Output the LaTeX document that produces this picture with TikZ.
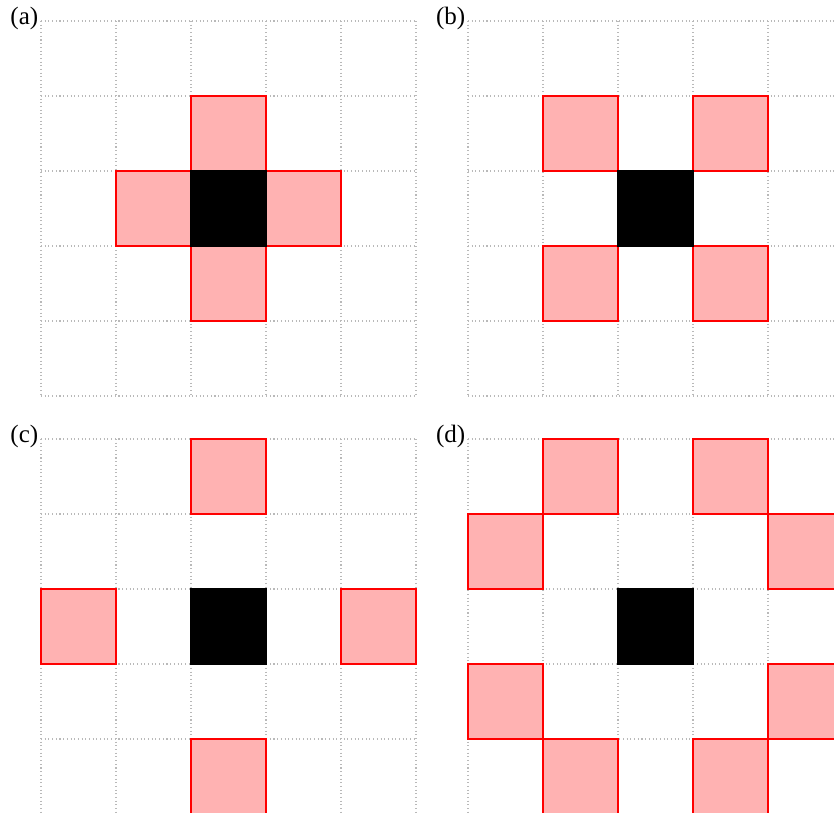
\documentclass[tikz,border=0pt]{standalone}
\usepackage{fontspec}
\setmainfont{Liberation Serif}
\begin{document}
\begin{tikzpicture}[x=1cm,y=1cm,
  gridline/.style={draw=gray!55, densely dotted, line width=0.4pt},
  pinkcell/.style={fill=red!30, draw=red, line width=0.5pt},
  centercell/.style={fill=black, draw=black, line width=0.5pt},
  paneltag/.style={anchor=east, inner sep=0pt, font=\fontsize{9.5}{11}\selectfont}]
\useasboundingbox (0,0) rectangle (834/75,-812/75);
\clip (0,0) rectangle (834/75,-812/75);
% panel origins (top-left of grid)
\def\panel#1#2#3#4{%
  \begin{scope}[shift={(#1,#2)}]
    \foreach \i in {0,...,5} {
      \draw[gridline] (\i,0) -- (\i,-5);
      \draw[gridline] (0,-\i) -- (5,-\i);
    }
    \foreach \c/\r in {#4} {
      \draw[pinkcell] (\c,-\r) rectangle ++(1,-1);
    }
    \fill[centercell] (2,-2) rectangle (3,-3);
    \node[paneltag] (tag#3) at (-0.03,0.03) {(#3)};
  \end{scope}}
\panel{41/75}{-21/75}{a}{2/1,1/2,3/2,2/3}
\panel{468/75}{-21/75}{b}{1/1,3/1,1/3,3/3}
\panel{41/75}{-439/75}{c}{2/0,0/2,4/2,2/4}
\panel{468/75}{-439/75}{d}{1/0,3/0,0/1,4/1,0/3,4/3,1/4,3/4}
\end{tikzpicture}
\end{document}
